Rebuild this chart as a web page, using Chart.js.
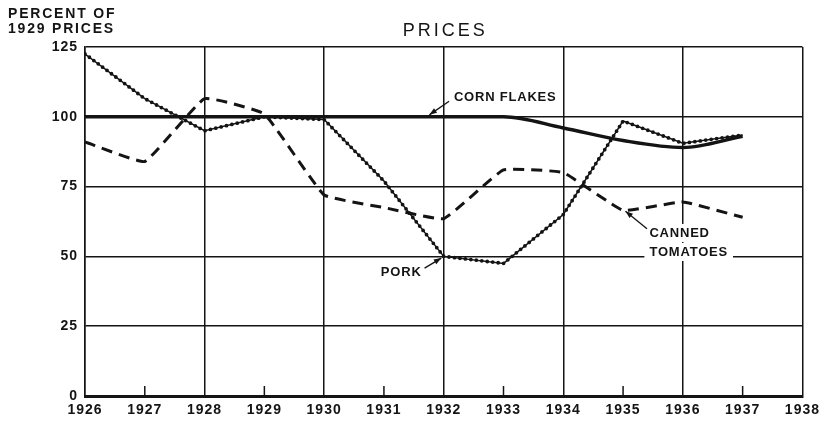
<!DOCTYPE html>
<html>
<head>
<meta charset="utf-8">
<script src="https://cdn.jsdelivr.net/npm/chart.js@4/dist/chart.umd.min.js"></script>
<style>
  html, body { margin: 0; padding: 0; background: #fff; }
  canvas { display: block; }
</style>
</head>
<body>
<canvas id="prices" width="826" height="425"></canvas>
<script>
const years = [1926, 1927, 1928, 1929, 1930, 1931, 1932, 1933, 1934, 1935, 1936, 1937];
const cornFlakes = [100, 100, 100, 100, 100, 100, 100, 100, 96, 91.5, 89, 93];
const pork = [122.5, 106.5, 95, 100, 99, 77, 50, 47.5, 65, 98.5, 90.5, 93.5];
const cannedTomatoes = [91, 84, 106.5, 101, 72, 67.5, 63.5, 81, 80, 66.5, 69.5, 64];
const yTicks = [0, 25, 50, 75, 100, 125];

// labels with arrows, placed in data units
const callouts = [
  { lines: ['CORN FLAKES'], x: 1932.17, y: 107.1, from: [1932.09, 105.6], to: [1931.76, 100.7] },
  { lines: ['PORK'], x: 1931.63, y: 44.4, align: 'right', from: [1931.68, 45.8], to: [1931.96, 49.4] },
  { lines: ['CANNED', 'TOMATOES'], x: 1935.44, y: 58.4, from: [1935.40, 59.9], to: [1935.04, 66.2] }
];

const FONT = '"Liberation Sans", Arial, sans-serif';
const INK = '#141414';

const toXY = vals => years.map((yr, i) => ({ x: yr, y: vals[i] }));

const spacing = {
  id: 'spacing',
  beforeUpdate(chart) { chart.ctx.letterSpacing = '1px'; },
  beforeDraw(chart) { chart.ctx.letterSpacing = '1px'; }
};

const decor = {
  id: 'decor',
  beforeDatasetsDraw(chart) {
    const { ctx, scales: { x, y } } = chart;
    ctx.save();
    // short ticks at odd years
    ctx.strokeStyle = INK;
    ctx.lineWidth = 1.5;
    for (let yr = 1927; yr < 1938; yr += 2) {
      const px = x.getPixelForValue(yr);
      ctx.beginPath();
      ctx.moveTo(px, y.bottom);
      ctx.lineTo(px, y.bottom - 10);
      ctx.stroke();
    }
    // white patches behind labels so the grid breaks there
    ctx.font = 'bold 13px ' + FONT;
    ctx.letterSpacing = '0.8px';
    ctx.fillStyle = '#fff';
    callouts.forEach(c => {
      const px = x.getPixelForValue(c.x);
      const py = y.getPixelForValue(c.y);
      c.lines.forEach((t, i) => {
        const w = ctx.measureText(t).width;
        const left = c.align === 'right' ? px - w : px;
        ctx.fillRect(left - 5, py - 9 + i * 19, w + 10, 18);
      });
    });
    ctx.restore();
  },
  afterDatasetsDraw(chart) {
    const { ctx, chartArea, scales: { x, y } } = chart;
    ctx.save();
    ctx.font = 'bold 13px ' + FONT;
    ctx.letterSpacing = '0.8px';
    ctx.fillStyle = INK;
    ctx.strokeStyle = INK;
    ctx.textBaseline = 'middle';
    callouts.forEach(c => {
      const px = x.getPixelForValue(c.x);
      const py = y.getPixelForValue(c.y);
      ctx.textAlign = c.align || 'left';
      c.lines.forEach((t, i) => ctx.fillText(t, px, py + i * 19));
      const x0 = x.getPixelForValue(c.from[0]), y0 = y.getPixelForValue(c.from[1]);
      const x1 = x.getPixelForValue(c.to[0]), y1 = y.getPixelForValue(c.to[1]);
      ctx.lineWidth = 1.3;
      ctx.beginPath();
      ctx.moveTo(x0, y0);
      ctx.lineTo(x1, y1);
      ctx.stroke();
      const a = Math.atan2(y1 - y0, x1 - x0);
      ctx.beginPath();
      ctx.moveTo(x1, y1);
      ctx.lineTo(x1 - 8 * Math.cos(a - 0.35), y1 - 8 * Math.sin(a - 0.35));
      ctx.lineTo(x1 - 8 * Math.cos(a + 0.35), y1 - 8 * Math.sin(a + 0.35));
      ctx.closePath();
      ctx.fill();
    });
    // axis caption, top left
    ctx.font = 'bold 14px ' + FONT;
    ctx.letterSpacing = '1.8px';
    ctx.textAlign = 'left';
    ctx.fillText('PERCENT OF', 8, 14);
    ctx.fillText('1929 PRICES', 8, 29);
    // title over the plot
    ctx.font = '18px ' + FONT;
    ctx.letterSpacing = '3px';
    ctx.textAlign = 'center';
    ctx.fillText('PRICES', (chartArea.left + chartArea.right) / 2 + 1.5, 31);
    ctx.restore();
  }
};

new Chart(document.getElementById('prices').getContext('2d'), {
  type: 'line',
  data: {
    datasets: [
      {
        label: 'Corn Flakes',
        data: toXY(cornFlakes),
        borderColor: INK,
        borderWidth: 3.5,
        cubicInterpolationMode: 'monotone',
        pointRadius: 0
      },
      {
        label: 'Canned Tomatoes',
        data: toXY(cannedTomatoes),
        borderColor: INK,
        borderWidth: 3,
        borderDash: [11, 7],
        tension: 0.1,
        pointRadius: 0
      },
      {
        label: 'Pork',
        data: toXY(pork),
        borderColor: INK,
        borderWidth: 1.5,
        pointRadius: 0
      },
      {
        label: 'Pork beads',
        data: toXY(pork),
        borderColor: INK,
        borderWidth: 3.8,
        borderDash: [0, 5.5],
        borderCapStyle: 'round',
        pointRadius: 0
      }
    ]
  },
  options: {
    responsive: false,
    animation: false,
    layout: { padding: { left: 0, right: 20, top: 47, bottom: 0 } },
    plugins: {
      legend: { display: false },
      tooltip: { enabled: false },
      title: { display: false }
    },
    scales: {
      x: {
        type: 'linear',
        min: 1926,
        max: 1938,
        afterFit: s => { s.height = 29; },
        ticks: {
          stepSize: 1,
          color: INK,
          padding: 6,
          font: { family: FONT, size: 14, weight: 'bold' },
          callback: v => String(v)
        },
        grid: {
          drawTicks: false,
          lineWidth: 1.5,
          color: c => (c.tick && c.tick.value % 2 === 0) ? INK : 'rgba(0,0,0,0)'
        },
        border: { color: INK, width: 3 }
      },
      y: {
        min: 0,
        max: 125,
        afterFit: s => { s.width = 85; },
        afterBuildTicks: s => { s.ticks = yTicks.map(v => ({ value: v })); },
        ticks: {
          color: INK,
          padding: 7,
          font: { family: FONT, size: 14, weight: 'bold' }
        },
        grid: { drawTicks: false, lineWidth: 1.5, color: INK },
        border: { color: INK, width: 1.5 }
      }
    }
  },
  plugins: [spacing, decor]
});
</script>
</body>
</html>
